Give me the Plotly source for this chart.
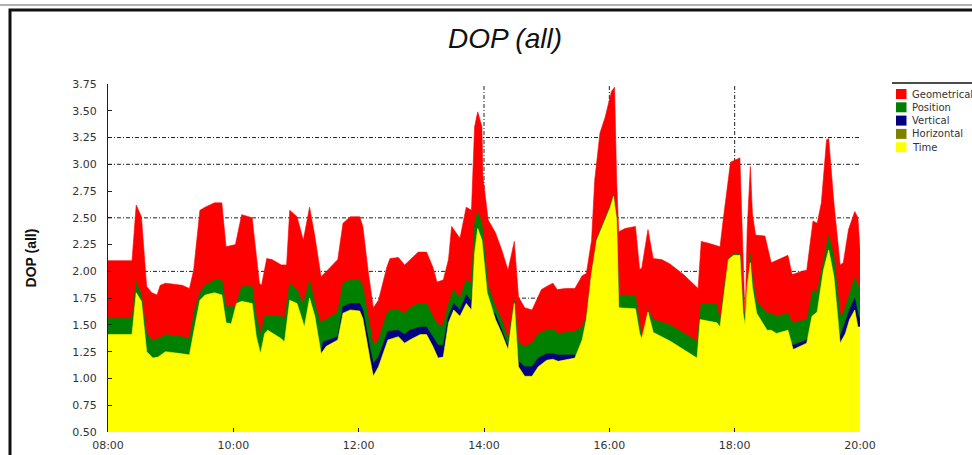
import plotly.graph_objects as go

DAY = "2024-01-01 "

# ---------------- data ----------------
geo_t = ["08:00", "08:23", "08:27", "08:32", "08:37", "08:42", "08:47", "08:50", "08:55", "09:11",
         "09:18", "09:22", "09:28", "09:33", "09:42", "09:49", "09:53", "10:02", "10:08", "10:18",
         "10:25", "10:27", "10:32", "10:37", "10:46", "10:51", "10:54", "11:01", "11:07", "11:13",
         "11:18", "11:24", "11:29", "11:40", "11:45", "11:52", "12:01", "12:04", "12:09", "12:14",
         "12:19", "12:27", "12:30", "12:38", "12:44", "12:49", "12:57", "13:05", "13:11", "13:15",
         "13:21", "13:26", "13:29", "13:37", "13:43", "13:48", "13:51", "13:54", "13:58", "13:59",
         "14:04", "14:11", "14:17", "14:23", "14:29", "14:33", "14:39", "14:46", "14:55", "15:00",
         "15:06", "15:10", "15:18", "15:27", "15:34", "15:38", "15:43", "15:46", "15:51", "15:56",
         "16:02", "16:05", "16:07", "16:09", "16:15", "16:25", "16:29", "16:31", "16:37", "16:42",
         "16:50", "16:58", "17:11", "17:25", "17:28", "17:36", "17:46", "17:49", "17:56", "18:05",
         "18:07", "18:10", "18:12", "18:15", "18:17", "18:20", "18:29", "18:35", "18:51", "18:55",
         "19:04", "19:09", "19:15", "19:19", "19:23", "19:28", "19:30", "19:35", "19:41", "19:44",
         "19:49", "19:55", "19:58", "20:00"]
geo_v = [2.10, 2.10, 2.62, 2.51, 1.86, 1.80, 1.78, 1.87, 1.89, 1.87,
         1.84, 2.01, 2.57, 2.60, 2.64, 2.64, 2.23, 2.25, 2.53, 2.50,
         1.89, 1.87, 2.12, 2.11, 2.06, 2.06, 2.57, 2.51, 2.29, 2.60,
         2.33, 1.95, 2.00, 2.11, 2.45, 2.51, 2.51, 2.42, 2.01, 1.66,
         1.73, 2.04, 2.12, 2.13, 2.06, 2.11, 2.18, 2.18, 2.04, 1.90,
         1.92, 2.11, 2.42, 2.31, 2.60, 2.57, 3.35, 3.49, 3.35, 2.88,
         2.48, 2.36, 2.20, 2.01, 2.28, 1.76, 1.66, 1.64, 1.83, 1.86,
         1.89, 1.83, 1.84, 1.84, 1.96, 1.98, 2.29, 2.85, 3.29, 3.44,
         3.68, 3.72, 2.85, 2.37, 2.40, 2.42, 2.02, 2.03, 2.39, 2.12,
         2.11, 2.07, 1.97, 1.84, 2.28, 2.26, 2.23, 2.48, 3.02, 3.06,
         2.48, 1.55, 2.39, 2.98, 2.54, 2.34, 2.33, 2.08, 2.15, 1.97,
         2.00, 2.01, 2.47, 2.45, 2.64, 3.23, 3.24, 2.64, 2.06, 2.08,
         2.39, 2.56, 2.50, 2.20]

pos_t = ["08:00", "08:23", "08:27", "08:32", "08:37", "08:42", "08:48", "08:55", "09:11", "09:18",
         "09:23", "09:28", "09:33", "09:42", "09:49", "09:53", "10:02", "10:08", "10:18", "10:22",
         "10:26", "10:30", "10:33", "10:46", "10:49", "10:54", "11:01", "11:07", "11:13", "11:18",
         "11:23", "11:29", "11:40", "11:45", "11:52", "12:01", "12:04", "12:09", "12:14", "12:19",
         "12:27", "12:30", "12:38", "12:44", "12:49", "12:57", "13:05", "13:11", "13:16", "13:21",
         "13:26", "13:31", "13:37", "13:43", "13:48", "13:51", "13:54", "13:58", "14:04", "14:11",
         "14:17", "14:23", "14:29", "14:33", "14:39", "14:46", "14:52", "15:00", "15:06", "15:11",
         "15:27", "15:34", "15:38", "15:43", "15:48", "15:56", "16:01", "16:04", "16:07", "16:09",
         "16:15", "16:25", "16:28", "16:31", "16:33", "16:37", "16:42", "16:58", "17:24", "17:28",
         "17:43", "17:46", "17:51", "17:56", "18:05", "18:08", "18:11", "18:15", "18:17", "18:21",
         "18:31", "18:35", "18:40", "18:51", "18:55", "19:09", "19:15", "19:19", "19:30", "19:35",
         "19:41", "19:44", "19:49", "19:55", "19:58", "20:00"]
pos_v = [1.56, 1.56, 1.90, 1.78, 1.42, 1.36, 1.37, 1.41, 1.39, 1.37,
         1.64, 1.80, 1.87, 1.92, 1.92, 1.67, 1.67, 1.86, 1.86, 1.58,
         1.41, 1.58, 1.59, 1.58, 1.56, 1.89, 1.83, 1.70, 1.92, 1.70,
         1.53, 1.55, 1.62, 1.89, 1.92, 1.92, 1.86, 1.58, 1.31, 1.36,
         1.61, 1.64, 1.64, 1.61, 1.66, 1.70, 1.70, 1.58, 1.50, 1.50,
         1.70, 1.83, 1.75, 1.92, 1.89, 2.45, 2.56, 2.45, 1.86, 1.67,
         1.55, 1.36, 1.73, 1.33, 1.30, 1.33, 1.42, 1.45, 1.46, 1.42,
         1.44, 1.48, 1.58, 1.99, 2.31, 2.50, 2.62, 2.72, 2.50, 1.77,
         1.78, 1.77, 1.58, 1.39, 1.40, 1.64, 1.55, 1.50, 1.35, 1.70,
         1.69, 1.52, 1.92, 2.15, 2.17, 1.68, 1.52, 2.17, 1.95, 1.72,
         1.61, 1.61, 1.58, 1.61, 1.52, 1.55, 1.83, 1.80, 2.34, 2.14,
         1.59, 1.61, 1.76, 1.94, 1.88, 1.80]

ver_t = ["08:00", "08:23", "08:27", "08:37", "09:18", "09:28", "09:49", "09:53", "10:08", "10:18",
         "10:26", "10:33", "10:49", "10:54", "11:08", "11:13", "11:18", "11:23", "11:26", "11:40",
         "11:45", "11:52", "12:01", "12:04", "12:11", "12:14", "12:19", "12:28", "12:38", "12:44",
         "12:49", "12:59", "13:05", "13:11", "13:16", "13:21", "13:26", "13:31", "13:37", "13:43",
         "13:48", "13:51", "13:54", "13:58", "14:04", "14:11", "14:17", "14:23", "14:29", "14:33",
         "14:39", "14:46", "14:52", "15:00", "15:06", "15:11", "15:27", "15:30", "15:34", "15:38",
         "15:43", "16:04", "16:09", "16:25", "16:31", "16:37", "16:42", "17:24", "17:27", "17:43",
         "17:46", "17:49", "17:56", "18:05", "18:07", "18:10", "18:15", "18:21", "18:31", "18:40",
         "18:51", "18:56", "19:09", "19:14", "19:30", "19:41", "19:50", "19:55", "19:58", "20:00"]
ver_v = [1.30, 1.30, 1.60, 1.12, 1.10, 1.55, 1.60, 1.40, 1.55, 1.50,
         1.15, 1.35, 1.25, 1.60, 1.38, 1.62, 1.50, 1.20, 1.34, 1.39,
         1.67, 1.70, 1.70, 1.64, 1.27, 1.14, 1.20, 1.44, 1.45, 1.41,
         1.45, 1.48, 1.48, 1.39, 1.31, 1.31, 1.58, 1.70, 1.64, 1.78,
         1.72, 2.10, 2.25, 2.20, 1.67, 1.60, 1.45, 1.30, 1.60, 1.16,
         1.11, 1.11, 1.19, 1.23, 1.23, 1.22, 1.22, 1.20, 1.30, 1.35,
         1.80, 2.30, 1.50, 1.50, 1.25, 1.45, 1.32, 1.10, 1.40, 1.40,
         1.38, 1.55, 1.90, 1.95, 1.55, 1.40, 1.90, 1.50, 1.38, 1.35,
         1.35, 1.31, 1.36, 1.45, 1.95, 1.39, 1.64, 1.75, 1.60, 1.55]

hor_t = ["08:00", "09:00", "09:40", "10:30", "11:00", "12:00", "12:14", "13:00", "13:54", "14:39",
         "15:30", "16:04", "16:40", "17:24", "18:00", "18:40", "19:30", "20:00"]
hor_v = [0.85, 0.80, 0.95, 0.85, 0.95, 0.92, 0.78, 0.88, 1.30, 0.80,
         0.85, 1.40, 0.95, 0.85, 1.10, 0.95, 1.25, 0.95]

tim_t = ["08:00", "08:23", "08:27", "08:32", "08:37", "08:43", "08:48", "08:55", "09:11", "09:18",
         "09:23", "09:28", "09:33", "09:42", "09:49", "09:53", "09:58", "10:03", "10:08", "10:18",
         "10:22", "10:26", "10:30", "10:33", "10:46", "10:49", "10:54", "11:01", "11:08", "11:13",
         "11:18", "11:24", "11:29", "11:40", "11:45", "11:52", "12:01", "12:04", "12:11", "12:14",
         "12:19", "12:28", "12:38", "12:44", "12:49", "12:59", "13:05", "13:11", "13:16", "13:21",
         "13:26", "13:31", "13:37", "13:43", "13:48", "13:51", "13:54", "13:58", "14:03", "14:11",
         "14:17", "14:23", "14:29", "14:33", "14:39", "14:46", "14:52", "15:00", "15:06", "15:11",
         "15:27", "15:34", "15:38", "15:43", "15:48", "15:56", "16:01", "16:04", "16:07", "16:09",
         "16:25", "16:29", "16:31", "16:37", "16:42", "16:58", "17:24", "17:27", "17:43", "17:46",
         "17:49", "17:54", "17:59", "18:05", "18:08", "18:10", "18:12", "18:15", "18:17", "18:21",
         "18:31", "18:35", "18:40", "18:51", "18:56", "19:09", "19:14", "19:19", "19:25", "19:30",
         "19:35", "19:41", "19:46", "19:50", "19:55", "19:58", "20:00"]
tim_v = [1.41, 1.41, 1.80, 1.72, 1.25, 1.19, 1.20, 1.25, 1.23, 1.22,
         1.48, 1.73, 1.78, 1.80, 1.78, 1.52, 1.51, 1.70, 1.72, 1.70,
         1.39, 1.23, 1.42, 1.45, 1.37, 1.34, 1.73, 1.70, 1.48, 1.75,
         1.58, 1.23, 1.30, 1.36, 1.61, 1.64, 1.63, 1.56, 1.17, 1.02,
         1.11, 1.36, 1.39, 1.33, 1.36, 1.41, 1.41, 1.30, 1.19, 1.20,
         1.52, 1.64, 1.58, 1.70, 1.64, 2.17, 2.40, 2.29, 1.80, 1.55,
         1.42, 1.27, 1.70, 1.11, 1.02, 1.02, 1.11, 1.17, 1.18, 1.16,
         1.19, 1.36, 1.55, 1.98, 2.29, 2.48, 2.60, 2.70, 2.48, 1.66,
         1.65, 1.42, 1.37, 1.62, 1.43, 1.35, 1.19, 1.55, 1.52, 1.48,
         1.70, 2.11, 2.15, 2.15, 1.61, 1.50, 1.86, 2.08, 1.85, 1.61,
         1.45, 1.45, 1.42, 1.45, 1.27, 1.33, 1.58, 1.62, 2.01, 2.20,
         1.95, 1.33, 1.42, 1.55, 1.64, 1.48, 1.48]

series_names = ["Geometrical", "Position", "Vertical", "Horizontal", "Time"]
series_colors = ["#ff0000", "#008000", "#000080", "#808000", "#ffff00"]
series_times = [geo_t, pos_t, ver_t, hor_t, tim_t]
series_values = [geo_v, pos_v, ver_v, hor_v, tim_v]

grid_y = [1.75, 2.00, 2.50, 3.00, 3.25]
grid_x = ["14:00", "16:00", "18:00"]

# ---------------- layout geometry (pixels) ----------------
W, H = 972, 455
L, R, T, B = 108, 112, 84, 23
PW, PH = W - L - R, H - T - B


def px(xp):
    return (xp - L) / PW


def py(yp):
    return (H - B - yp) / PH


fig = go.Figure()
for name, t, v, c in zip(series_names, series_times, series_values, series_colors):
    fig.add_trace(go.Scatter(
        x=[DAY + s for s in t], y=v, name=name, mode="lines",
        line=dict(color=c, width=0.6), fill="tozeroy", fillcolor=c,
        showlegend=False))

shapes = []
for g in grid_y:
    shapes.append(dict(type="line", xref="paper", yref="y", x0=0, x1=1, y0=g, y1=g,
                       line=dict(color="#222222", width=1, dash="4px,2px,1px,2px"), layer="below"))
for g in grid_x:
    shapes.append(dict(type="line", xref="x", yref="paper", x0=DAY + g, x1=DAY + g, y0=0, y1=1,
                       line=dict(color="#222222", width=1, dash="4px,2px,1px,2px"), layer="below"))

# outer frame
shapes.append(dict(type="rect", xref="paper", yref="paper", x0=px(10), x1=px(990), y0=py(10), y1=py(475),
                   line=dict(color="#111111", width=3), fillcolor="rgba(0,0,0,0)", layer="above"))
shapes.append(dict(type="line", xref="paper", yref="paper", x0=px(0), x1=px(972), y0=py(5), y1=py(5),
                   line=dict(color="#b0b0b0", width=2)))
# legend (drawn manually: squares + labels)
shapes.append(dict(type="line", xref="paper", yref="paper", x0=px(892), x1=px(975), y0=py(83), y1=py(83),
                   line=dict(color="#111111", width=1.5)))
annotations = []
row0, dy = 94.0, 13.3
for i, (name, c) in enumerate(zip(series_names, series_colors)):
    yc = row0 + i * dy
    shapes.append(dict(type="rect", xref="paper", yref="paper", x0=px(896), x1=px(906.5),
                       y0=py(yc - 5), y1=py(yc + 5), line=dict(width=0), fillcolor=c))
    annotations.append(dict(xref="paper", yref="paper", x=px(910), y=py(yc), text=name,
                            showarrow=False, xanchor="left", yanchor="middle",
                            font=dict(family="DejaVu Sans", size=10, color="#333333")))

fig.update_layout(
    width=W, height=H, autosize=False,
    margin=dict(l=L, r=R, t=T, b=B, pad=0, autoexpand=False),
    paper_bgcolor="white", plot_bgcolor="white",
    title=dict(text="DOP (all)", x=px(505), xref="paper", xanchor="center",
               y=1 - 38 / H, yref="container", yanchor="middle",
               font=dict(family="Liberation Sans", size=28, color="#111111", style="italic")),
    xaxis=dict(type="date", range=[DAY + "08:00", DAY + "20:00"], tick0=DAY + "08:00",
               dtick=2 * 3600 * 1000, tickformat="%H:%M", ticks="inside", ticklen=4,
               tickcolor="#222222", showgrid=False, zeroline=False, showline=False,
               ticklabelstandoff=5, automargin=False,
               tickfont=dict(family="DejaVu Sans", size=11, color="#333333")),
    yaxis=dict(range=[0.5, 3.75], tick0=0.5, dtick=0.25, tickformat=".2f", ticks="inside",
               ticklen=4, tickcolor="#222222", showgrid=False, zeroline=False,
               showline=True, linecolor="#222222", linewidth=1, ticklabelstandoff=8,
               automargin=False,
               tickfont=dict(family="DejaVu Sans", size=11, color="#333333"),
               title=dict(text="DOP (all)", standoff=32,
                          font=dict(family="Liberation Sans", size=14, color="#111111", weight="bold"))),
    shapes=shapes, annotations=annotations, showlegend=False,
)

fig.write_html("out.html")
